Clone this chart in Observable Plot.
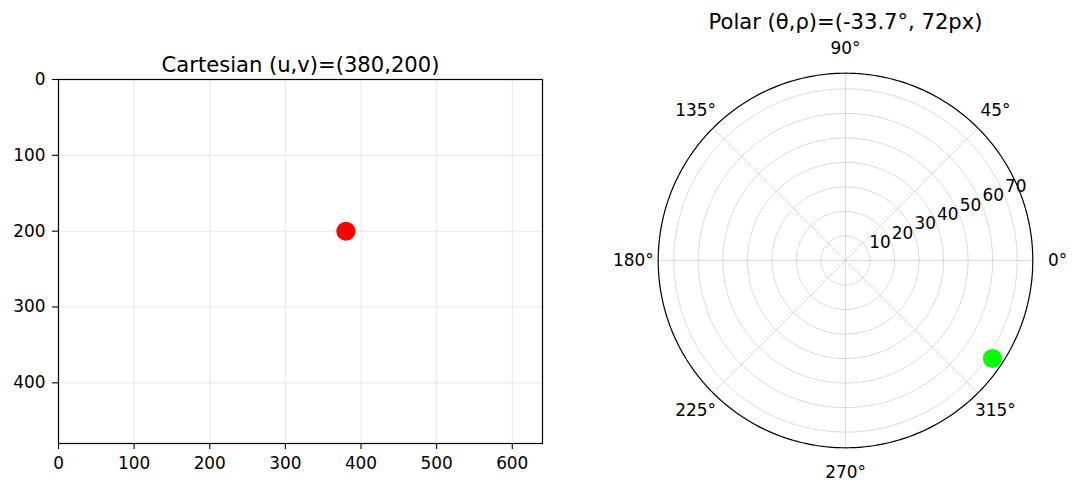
<!DOCTYPE html>
<html>
<head>
<meta charset="utf-8">
<script src="https://cdn.jsdelivr.net/npm/d3@7"></script>
<script src="https://cdn.jsdelivr.net/npm/@observablehq/plot@0.6"></script>
<style>
  html, body { margin: 0; padding: 0; background: white; }
  #wrap { display: flex; width: 1080px; height: 496px; background: white; }
  #wrap svg { display: block; }
</style>
</head>
<body>
<div id="wrap"></div>
<script>
// ---- data ----
const cartTitle = "Cartesian (u,v)=(380,200)";
const polarTitle = "Polar (θ,ρ)=(-33.7°, 72px)";
const xTicks = [0, 100, 200, 300, 400, 500, 600];
const yTicks = [0, 100, 200, 300, 400];
const xDomain = [0, 640];
const yDomain = [0, 480];
const cartU = [380];
const cartV = [200];
const rRings = [10, 20, 30, 40, 50, 60, 70];
const rMax = 76.4;
const thetaTicks = [0, 45, 90, 135, 180, 225, 270, 315];
const rLabelAngle = 22.5;
const polarTheta = [-33.7];
const polarRho = [72];

// ---- helpers ----
const rad = (a) => a * Math.PI / 180;
const px = (r, a) => r * Math.cos(rad(a));
const py = (r, a) => r * Math.sin(rad(a));
const FONT = "DejaVu Sans";
const TICK_FS = 16.9;
const TITLE_FS = 21.1;

const cartPoints = cartU.map((u, i) => ({u, v: cartV[i]}));
const polarPoints = polarTheta.map((t, i) => ({theta: t, rho: polarRho[i]}));

// ---- Cartesian subplot ----
const left = Plot.plot({
  width: 580,
  height: 496,
  marginLeft: 58,
  marginRight: 38,
  marginTop: 79,
  marginBottom: 53,
  x: {domain: xDomain},
  y: {domain: yDomain, reverse: true},
  style: {fontFamily: FONT, fontSize: TICK_FS + "px", color: "black", background: "white", overflow: "visible"},
  marks: [
    Plot.gridX(xTicks, {stroke: "#b0b0b0", strokeOpacity: 0.3, strokeWidth: 1}),
    Plot.gridY(yTicks, {stroke: "#b0b0b0", strokeOpacity: 0.3, strokeWidth: 1}),
    Plot.frame({stroke: "black", strokeWidth: 1.2}),
    Plot.axisX(xTicks, {tickSize: 6, tickPadding: 7.5, label: null, fontSize: TICK_FS, strokeWidth: 1.1}),
    Plot.axisY(yTicks, {tickSize: 6, tickPadding: 7, label: null, fontSize: TICK_FS, strokeWidth: 1.1}),
    Plot.dot(cartPoints, {x: "u", y: "v", r: 9.5, fill: "#ff0000", stroke: "none"}),
    Plot.text([cartTitle], {text: (d) => d, frameAnchor: "top", lineAnchor: "bottom", dy: -8, fontSize: TITLE_FS, fill: "black"})
  ]
});

// ---- Polar subplot ----
const ringPts = rRings.flatMap((r) => d3.range(0, 361, 2).map((a) => ({r, a})));
const outerPts = d3.range(0, 361, 1).map((a) => ({r: rMax, a}));

const right = Plot.plot({
  width: 500,
  height: 496,
  marginLeft: 77.7,
  marginRight: 47.7,
  marginTop: 72.7,
  marginBottom: 48.7,
  x: {domain: [-rMax, rMax], axis: null},
  y: {domain: [-rMax, rMax], axis: null},
  style: {fontFamily: FONT, fontSize: TICK_FS + "px", color: "black", background: "white", overflow: "visible"},
  marks: [
    Plot.line(ringPts, {x: (d) => px(d.r, d.a), y: (d) => py(d.r, d.a), z: "r", stroke: "#b0b0b0", strokeOpacity: 0.45, strokeWidth: 1}),
    Plot.link(thetaTicks, {x1: () => 0, y1: () => 0, x2: (d) => px(rMax, d), y2: (d) => py(rMax, d), stroke: "#b0b0b0", strokeOpacity: 0.45, strokeWidth: 1}),
    Plot.line(outerPts, {x: (d) => px(d.r, d.a), y: (d) => py(d.r, d.a), stroke: "black", strokeWidth: 1.2}),
    Plot.text(rRings, {x: (d) => px(d, rLabelAngle), y: (d) => py(d, rLabelAngle), text: (d) => String(d), textAnchor: "start", lineAnchor: "bottom", dx: 1, dy: -3, fontSize: TICK_FS, fill: "black"}),
    Plot.text(thetaTicks, {x: (d) => px(86.5, d), y: (d) => py(86.5, d), text: (d) => d + "°", textAnchor: "middle", lineAnchor: "middle", fontSize: TICK_FS, fill: "black"}),
    Plot.dot(polarPoints, {x: (d) => px(d.rho, d.theta), y: (d) => py(d.rho, d.theta), r: 9.5, fill: "#00ff00", stroke: "none"}),
    Plot.text([polarTitle], {text: (d) => d, frameAnchor: "top", lineAnchor: "bottom", dy: -44.4, fontSize: TITLE_FS, fill: "black"})
  ]
});

const wrap = document.getElementById("wrap");
wrap.appendChild(left);
wrap.appendChild(right);
</script>
</body>
</html>
